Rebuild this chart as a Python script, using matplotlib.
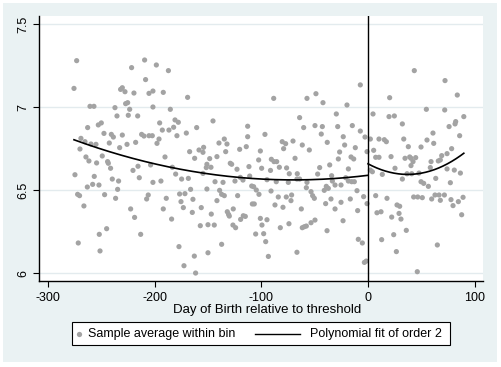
import numpy as np
import matplotlib
matplotlib.use("Agg")
import matplotlib.pyplot as plt
from matplotlib.patches import Rectangle
from matplotlib.lines import Line2D

plt.rcParams['font.family'] = ['Liberation Sans', 'DejaVu Sans']
plt.rcParams['axes.unicode_minus'] = False

# ---- data: bin averages (day relative to threshold, value) ----
days_a = [-273.1, -275.6, -260.6, -256.9, -262.8, -252.8, -269.1, -265.3, -270.0, -259.7, -255.0, -264.4, -261.6,
          -254.4, -274.7, -256.6, -258.1, -263.1, -252.2, -272.2, -270.4, -266.3, -251.9, -271.6, -251.2]
vals_a = [7.281, 7.114, 7.006, 7.006, 6.878, 6.894, 6.813, 6.793, 6.749, 6.779, 6.777, 6.701, 6.677,
          6.665, 6.594, 6.584, 6.536, 6.520, 6.532, 6.476, 6.468, 6.406, 6.235, 6.183, 6.135]

days_b = [-209.4, -221.6, -208.5, -230.3, -231.9, -227.8, -219.4, -205.3, -201.6, -227.2, -225.3, -237.2, -223.4,
          -250.0, -235.3, -224.7, -215.9, -201.6, -247.5, -240.6, -238.7, -230.3, -212.2, -210.0, -205.3, -202.2,
          -242.5, -225.9, -217.8, -232.8, -249.1, -244.1, -243.4, -241.3, -203.8, -215.6, -220.3, -214.4, -239.7,
          -233.8, -201.6, -234.7, -246.9, -236.6, -206.0, -207.5, -222.5, -218.8, -213.1, -245.0]
vals_b = [7.285, 7.239, 7.167, 7.118, 7.108, 7.094, 7.086, 7.084, 7.098, 7.022, 7.028, 6.998, 6.988,
          6.906, 6.948, 6.952, 6.948, 7.002, 6.843, 6.837, 6.821, 6.833, 6.837, 6.827, 6.829, 6.829,
          6.785, 6.777, 6.789, 6.757, 6.707, 6.673, 6.663, 6.633, 6.653, 6.645, 6.620, 6.576, 6.568,
          6.556, 6.548, 6.506, 6.474, 6.452, 6.472, 6.448, 6.388, 6.337, 6.235, 6.269]

days_c = [-198.4, -187.1, -191.9, -169.1, -185.3, -195.3, -180.9, -177.8, -186.6, -182.2, -192.8, -195.9, -197.8,
          -179.1, -170.3, -160.6, -167.2, -158.4, -154.7, -154.1, -162.5, -190.3, -151.0, -183.4, -180.3, -174.7,
          -168.4, -154.7, -151.6, -194.1, -166.3, -151.0, -189.1, -176.6, -171.6, -175.3, -164.1, -173.1, -191.9,
          -156.3, -164.7, -184.1, -157.2, -150.0, -177.2, -162.8, -172.5, -161.6, -150.0]
vals_c = [7.255, 7.221, 7.090, 7.060, 6.988, 6.906, 6.924, 6.910, 6.863, 6.880, 6.863, 6.809, 6.783,
          6.829, 6.845, 6.878, 6.733, 6.743, 6.729, 6.759, 6.693, 6.701, 6.657, 6.639, 6.598, 6.568,
          6.572, 6.602, 6.637, 6.556, 6.506, 6.508, 6.452, 6.478, 6.480, 6.432, 6.446, 6.396, 6.388,
          6.396, 6.367, 6.327, 6.287, 6.293, 6.161, 6.104, 6.046, 6.002, 6.124]

days_d = [-145.3, -112.8, -112.8, -134.7, -139.7, -132.2, -114.1, -120.3, -100.9, -148.4, -141.6, -133.4, -129.1,
          -127.8, -122.8, -102.5, -147.2, -111.6, -99.7, -143.4, -135.9, -124.7, -119.7, -117.2, -110.9, -109.0,
          -107.2, -139.1, -137.2, -134.7, -104.7, -102.2, -122.2, -141.6, -108.4, -106.6, -126.3, -131.9, -130.7,
          -130.0, -116.9, -115.0, -119.4, -146.9, -100.9, -144.1, -126.6, -124.1, -99.4, -105.3, -137.2]
vals_d = [6.918, 6.886, 6.823, 6.809, 6.785, 6.779, 6.763, 6.747, 6.737, 6.691, 6.703, 6.733, 6.663,
          6.657, 6.627, 6.683, 6.639, 6.643, 6.633, 6.552, 6.548, 6.556, 6.578, 6.562, 6.586, 6.526,
          6.522, 6.500, 6.476, 6.468, 6.502, 6.476, 6.468, 6.438, 6.418, 6.418, 6.388, 6.371, 6.355,
          6.345, 6.347, 6.343, 6.325, 6.357, 6.331, 6.291, 6.291, 6.275, 6.291, 6.237, 6.175]

days_e = [-88.4, -57.2, -48.8, -64.1, -60.3, -49.7, -96.6, -80.4, -77.2, -79.1, -70.3, -61.6, -55.0,
          -68.4, -90.6, -88.1, -85.6, -83.1, -76.3, -91.4, -73.8, -66.3, -94.7, -86.0, -74.7, -66.6,
          -64.1, -57.2, -57.8, -53.4, -51.9, -50.3, -90.9, -84.1, -76.6, -71.6, -72.2, -87.2, -79.7,
          -62.5, -94.7, -74.1, -82.2, -61.6, -59.7, -57.8, -53.4, -49.7, -97.8, -95.9, -93.4, -66.6]
vals_e = [7.054, 7.054, 7.082, 6.938, 6.878, 6.890, 6.837, 6.793, 6.781, 6.751, 6.797, 6.773, 6.743,
          6.693, 6.687, 6.673, 6.673, 6.639, 6.635, 6.620, 6.600, 6.600, 6.564, 6.552, 6.548, 6.568,
          6.568, 6.548, 6.516, 6.492, 6.468, 6.452, 6.496, 6.460, 6.460, 6.472, 6.438, 6.412, 6.398,
          6.388, 6.323, 6.299, 6.275, 6.275, 6.281, 6.285, 6.305, 6.321, 6.239, 6.191, 6.102, 6.127]

days_f = [-7.2, -42.2, -19.7, -29.7, -42.8, -28.4, -14.7, -7.2, -2.8, -43.8, -38.2, -23.2, -21.9,
          -11.9, -0.9, -26.6, -27.8, -15.9, -13.4, -35.9, -18.4, -45.3, -47.2, -34.1, -33.4, -20.9,
          -30.9, -25.3, -39.1, -37.2, -18.4, -15.3, -12.8, -10.3, -41.0, -34.7, -16.6, -4.1, -0.9,
          -39.7, -25.3, -30.9, -9.7, -23.4, -38.4, -9.1, -5.3, -3.4, -1.6]
vals_f = [7.135, 7.028, 7.014, 6.960, 6.884, 6.884, 6.890, 6.857, 6.821, 6.839, 6.789, 6.823, 6.773,
          6.757, 6.733, 6.731, 6.689, 6.701, 6.689, 6.653, 6.629, 6.637, 6.598, 6.588, 6.556, 6.576,
          6.532, 6.532, 6.524, 6.512, 6.556, 6.552, 6.552, 6.498, 6.500, 6.448, 6.448, 6.462, 6.420,
          6.420, 6.428, 6.388, 6.378, 6.317, 6.257, 6.205, 6.183, 6.066, 6.074]

days_g = [43.4, 20.3, 4.7, 19.7, 24.7, 32.2, 2.2, 10.3, 15.3, 17.2, 33.5, 37.8, 49.7,
          5.3, 7.2, 10.3, 21.6, 34.7, 39.1, 40.3, 44.7, 42.2, 40.3, 2.2, 13.4, 25.3,
          36.6, 41.0, 32.2, 47.8, 49.7, 52.2, 4.1, 7.2, 17.8, 42.8, 46.6, 50.9, 8.4,
          12.2, 27.2, 29.7, 22.2, 29.1, 30.9, 35.9, 12.8, 24.1, 26.6, 46.2]
vals_g = [7.221, 7.058, 6.960, 6.944, 6.948, 6.900, 6.809, 6.809, 6.805, 6.793, 6.809, 6.763, 6.761,
          6.741, 6.699, 6.699, 6.703, 6.693, 6.701, 6.693, 6.697, 6.673, 6.649, 6.622, 6.596, 6.633,
          6.600, 6.600, 6.568, 6.604, 6.552, 6.542, 6.612, 6.468, 6.452, 6.460, 6.460, 6.456, 6.365,
          6.371, 6.412, 6.404, 6.339, 6.361, 6.327, 6.259, 6.203, 6.233, 6.131, 6.010]

days_h = [72.2, 83.7, 54.7, 71.9, 89.8, 82.2, 81.6, 76.0, 60.9, 85.9, 55.3, 61.6, 78.4,
          74.1, 69.1, 59.1, 65.9, 67.8, 58.4, 74.1, 80.9, 86.6, 63.5, 77.2, 56.6, 59.7,
          62.8, 66.6, 71.6, 67.8, 77.8, 79.7, 84.7, 89.1, 87.8, 65.0]
vals_h = [7.161, 7.074, 6.988, 6.984, 6.944, 6.914, 6.900, 6.884, 6.845, 6.829, 6.803, 6.783, 6.751,
          6.721, 6.709, 6.673, 6.677, 6.683, 6.637, 6.629, 6.622, 6.604, 6.572, 6.546, 6.524, 6.448,
          6.472, 6.472, 6.472, 6.440, 6.444, 6.408, 6.432, 6.458, 6.353, 6.171]

x_ticks = [-300, -200, -100, 0, 100]
x_tick_labels = ['-300', '-200', '-100', '0', '100']
y_ticks = [6, 6.5, 7, 7.5]
y_tick_labels = ['6', '6.5', '7', '7.5']
threshold = 0
x_label = 'Day of Birth relative to threshold'
legend_labels = ['Sample average within bin', 'Polynomial fit of order 2']

days = np.array(days_a + days_b + days_c + days_d + days_e + days_f + days_g + days_h)
vals = np.array(vals_a + vals_b + vals_c + vals_d + vals_e + vals_f + vals_g + vals_h)

W, H = 501, 367
fig = plt.figure(figsize=(W / 100, H / 100), dpi=100)
fig.patch.set_facecolor('white')
fig.patches.append(Rectangle((3 / W, 5 / H), 494 / W, 359 / H, transform=fig.transFigure,
                             facecolor='#eaf2f3', edgecolor='none', zorder=-10))

ax = fig.add_axes([39 / W, (H - 281) / H, 444 / W, 265 / H])
ax.set_zorder(1)
ax.set_facecolor('white')
ax.set_xlim(-308.4, 107.8)
ax.set_ylim(5.954, 7.550)

grey = '#a3a3a3'
ax.scatter(days, vals, s=14, color=grey, edgecolors='none', zorder=3)

# quadratic fits on each side of the threshold
left = days < threshold
right = ~left
for side, mask in (('left', left), ('right', right)):
    c = np.polyfit(days[mask], vals[mask], 2)
    lo, hi = days[mask].min(), days[mask].max()
    if side == 'left':
        hi = threshold
    else:
        lo = threshold
    xx = np.linspace(lo, hi, 200)
    ax.plot(xx, np.polyval(c, xx), color='black', lw=1.2, zorder=4)

ax.axvline(threshold, color='black', lw=1.0, zorder=5)

for yt in y_ticks:
    ax.axhline(yt, color='#e3ebee', lw=1.0, zorder=1)

for s in ['top', 'right']:
    ax.spines[s].set_visible(False)
for s in ['left', 'bottom']:
    ax.spines[s].set_linewidth(1.0)
    ax.spines[s].set_color('black')

ax.set_xticks(x_ticks)
ax.set_xticklabels(x_tick_labels)
ax.set_yticks(y_ticks)
ax.set_yticklabels(y_tick_labels, rotation=90, va='center')
ax.tick_params(axis='both', length=4, width=0.8, labelsize=9, color='black')
ax.tick_params(axis='x', pad=4)
ax.tick_params(axis='y', pad=3)

fig.text(267 / W, 1 - 312.5 / H, x_label, ha='center', va='baseline', fontsize=9.5, zorder=3)

# legend box
fig.patches.append(Rectangle((72 / W, (H - 345) / H), 378 / W, 23 / H, transform=fig.transFigure,
                             facecolor='white', edgecolor='black', lw=0.8, zorder=2))
ly = 1 - 333.5 / H
fig.add_artist(Line2D([79 / W], [ly], marker='o', color=grey, markersize=3.8, markeredgewidth=0,
                      linestyle='none', transform=fig.transFigure, zorder=4))
fig.text(88 / W, ly, legend_labels[0], ha='left', va='center', fontsize=9, zorder=4)
fig.add_artist(Line2D([255 / W, 300 / W], [ly, ly], color='black', lw=1.0, transform=fig.transFigure,
                      zorder=4))
fig.text(310 / W, ly, legend_labels[1], ha='left', va='center', fontsize=9, zorder=4)

fig.savefig('out.png', dpi=100, facecolor=fig.get_facecolor())
